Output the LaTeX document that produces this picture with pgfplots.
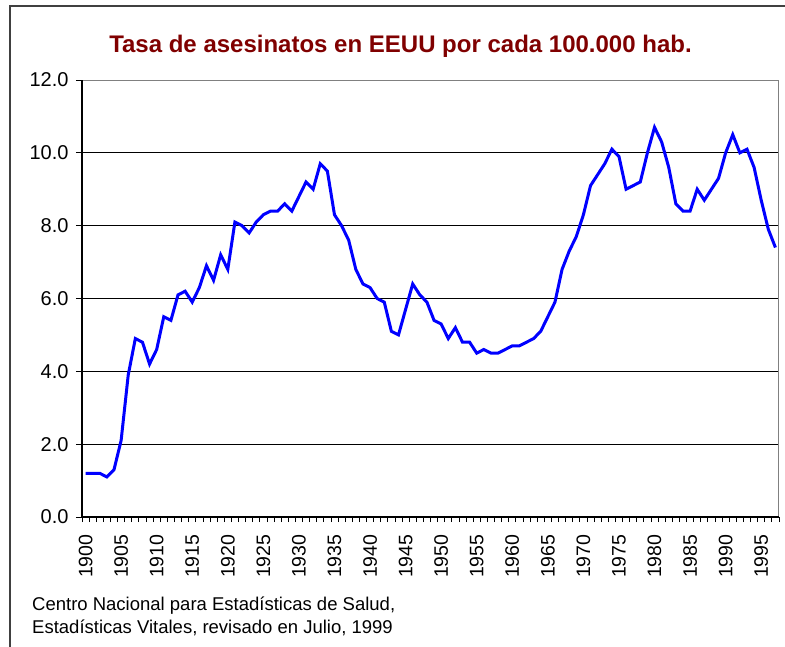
\documentclass[border=0pt]{standalone}
\usepackage{pgfplots}
\pgfplotsset{compat=1.18}
\usepackage{pgfplotstable}
\usepackage{fontspec}
\setmainfont{Liberation Sans}
\definecolor{titlered}{RGB}{128,0,0}
\definecolor{framegray}{RGB}{64,64,64}
\pgfplotstableread{
year rate
1900 1.2
1901 1.2
1902 1.2
1903 1.1
1904 1.3
1905 2.1
1906 3.9
1907 4.9
1908 4.8
1909 4.2
1910 4.6
1911 5.5
1912 5.4
1913 6.1
1914 6.2
1915 5.9
1916 6.3
1917 6.9
1918 6.5
1919 7.2
1920 6.8
1921 8.1
1922 8.0
1923 7.8
1924 8.1
1925 8.3
1926 8.4
1927 8.4
1928 8.6
1929 8.4
1930 8.8
1931 9.2
1932 9.0
1933 9.7
1934 9.5
1935 8.3
1936 8.0
1937 7.6
1938 6.8
1939 6.4
1940 6.3
1941 6.0
1942 5.9
1943 5.1
1944 5.0
1945 5.7
1946 6.4
1947 6.1
1948 5.9
1949 5.4
1950 5.3
1951 4.9
1952 5.2
1953 4.8
1954 4.8
1955 4.5
1956 4.6
1957 4.5
1958 4.5
1959 4.6
1960 4.7
1961 4.7
1962 4.8
1963 4.9
1964 5.1
1965 5.5
1966 5.9
1967 6.8
1968 7.3
1969 7.7
1970 8.3
1971 9.1
1972 9.4
1973 9.7
1974 10.1
1975 9.9
1976 9.0
1977 9.1
1978 9.2
1979 10.0
1980 10.7
1981 10.3
1982 9.6
1983 8.6
1984 8.4
1985 8.4
1986 9.0
1987 8.7
1988 9.0
1989 9.3
1990 10.0
1991 10.5
1992 10.0
1993 10.1
1994 9.6
1995 8.7
1996 7.9
1997 7.4
}\murders
\begin{document}
\begin{tikzpicture}[x=1pt,y=1pt]
\useasboundingbox (0,0) rectangle (785,-646);
\draw[framegray, line width=2pt] (10,-700) -- (10,-6) -- (850,-6);
\node[anchor=base, font=\fontsize{24}{28}\selectfont\bfseries, text=titlered, inner sep=0pt] at (400.5,-52) {Tasa de asesinatos en EEUU por cada 100.000 hab.};
\begin{axis}[
  at={(82pt,-517pt)}, anchor=origin,
  scale only axis, width=697pt, height=437pt,
  xmin=1899.5, xmax=1997.5, ymin=0, ymax=12,
  axis line style={draw=gray, line width=1pt},
  ytick={0,2,...,12},
  ymajorgrids, major grid style={black, line width=0.8pt},
  yticklabel style={/pgf/number format/fixed, /pgf/number format/fixed zerofill, /pgf/number format/precision=1, /pgf/number format/assume math mode=true, font=\fontsize{20}{22}\selectfont, xshift=-4pt},
  ytick style={black, line width=1pt},
  major tick length=6pt, minor tick length=5pt,
  tick align=outside, tick pos=left,
  xtick={1900,1905,...,1995},
  xticklabel style={rotate=90, anchor=east, font=\fontsize{19.5}{22}\selectfont, /pgf/number format/1000 sep={}, /pgf/number format/assume math mode=true},
  xticklabel shift=8pt,
  x tick style={draw=none},
  minor xtick={1899.5,1900.5,...,1997.5},
  minor x tick style={draw=black, line width=0.8pt},
  clip=false,
]
\addplot[blue, line width=3pt, no marks] table[x=year, y=rate] {\murders};
\draw[black, line width=1.5pt] (rel axis cs:0,1) -- (rel axis cs:0,0) -- (rel axis cs:1,0);
\end{axis}
\node[anchor=base west, font=\fontsize{18.5}{22}\selectfont, inner sep=0pt] at (32,-610) {Centro Nacional para Estadísticas de Salud,};
\node[anchor=base west, font=\fontsize{18.5}{22}\selectfont, inner sep=0pt] at (32,-633) {Estadísticas Vitales, revisado en Julio, 1999};
\end{tikzpicture}
\end{document}
